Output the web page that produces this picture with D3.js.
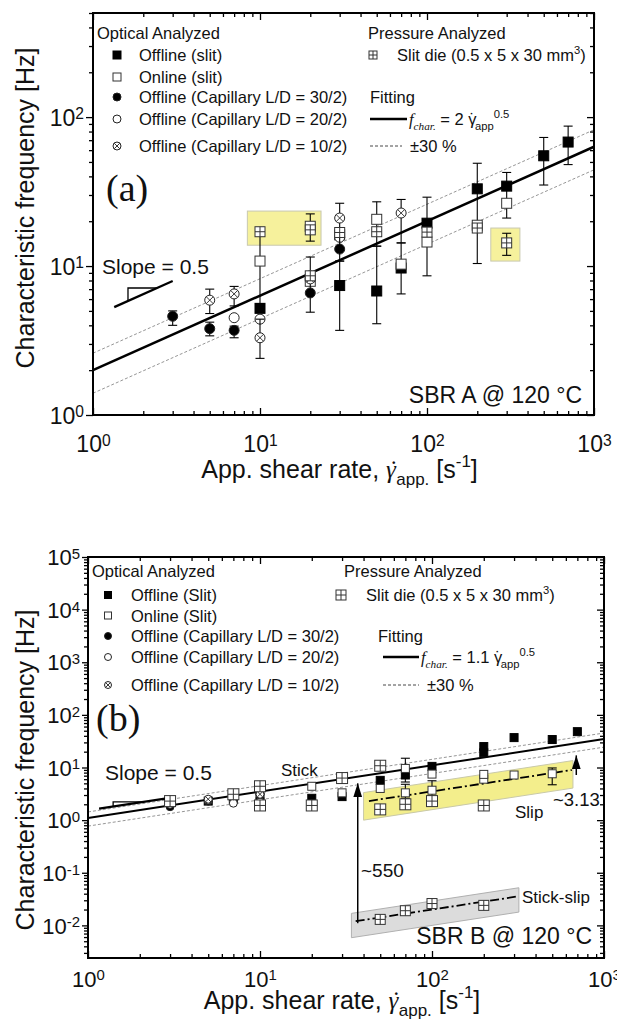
<!DOCTYPE html>
<html lang="en">
<head>
<meta charset="utf-8">
<title>Characteristic frequency vs apparent shear rate</title>
<style>
  body { margin: 0; background: #fff; }
  svg { font-family: "Liberation Sans", Arial, sans-serif; }
  .frame { fill: none; stroke: #000; stroke-width: 2; }
  .axis path { display: none; }
  .axis line { stroke: #000; stroke-width: 1.3; }
  .axis text { font-family: "Liberation Sans", Arial, sans-serif; fill: #111; }
  .pm { fill: none; stroke: #8a8a8a; stroke-width: 0.9; stroke-dasharray: 3,2; }
  .err { stroke: #000; stroke-width: 1.1; }
</style>
</head>
<body>
<svg id="chart" width="617" height="1020"></svg>
<script src="https://d3js.org/d3.v7.min.js"></script>
<script>
// ---------- data ----------
var xDomain = [1, 1000];
var xTicks = [1, 10, 100, 1000];

// (a) SBR A @ 120 °C
var aYDomain = [1, 500];
var aYTicks = [1, 10, 100];
var aFitK = 2;          // f = 2 * rate^0.5
var aOfflineSlit = [
  {x: 10, y: 5.2}, {x: 30, y: 7.4, lo: 3.7, hi: 10.8}, {x: 50, y: 6.8, lo: 4.1, hi: 13.6},
  {x: 70, y: 9.7, lo: 6.5, hi: 14.3}, {x: 100, y: 19.4, lo: 8.6, hi: 29},
  {x: 200, y: 33, lo: 10.4, hi: 49}, {x: 300, y: 34.4, lo: 21, hi: 42.5},
  {x: 500, y: 55, lo: 35, hi: 73}, {x: 700, y: 68, lo: 48, hi: 87}
];
var aOnlineSlit = [
  {x: 10, y: 10.8, lo: 5.6, hi: 18}, {x: 20, y: 18.5, lo: 14.7, hi: 22.4}, {x: 20, y: 7.9},
  {x: 30, y: 16.2}, {x: 50, y: 20.6, lo: 13.6, hi: 27}, {x: 70, y: 10.3},
  {x: 100, y: 14.5}, {x: 200, y: 18.8}, {x: 300, y: 26.4}
];
var aCap30 = [
  {x: 3, y: 4.6, lo: 4.0, hi: 5.0}, {x: 5, y: 3.8, lo: 3.4, hi: 4.2},
  {x: 7, y: 3.7, lo: 3.3, hi: 3.95}, {x: 20, y: 6.6, lo: 4.9, hi: 11.5}, {x: 30, y: 13}
];
var aCap20 = [{x: 7, y: 4.5}, {x: 10, y: 4.4}, {x: 20, y: 8.6}, {x: 30, y: 15.6}];
var aCap10 = [
  {x: 5, y: 5.9, lo: 4.8, hi: 7.0}, {x: 7, y: 6.5, lo: 5.4, hi: 7.3}, {x: 10, y: 3.3, lo: 2.4, hi: 4.4},
  {x: 20, y: 8.2}, {x: 30, y: 21, lo: 10.8, hi: 26.4}, {x: 70, y: 22.7, lo: 14.3, hi: 28}
];
var aSlitDie = [
  {x: 10, y: 17}, {x: 20, y: 17.5}, {x: 20, y: 8.6}, {x: 30, y: 16.8}, {x: 50, y: 17},
  {x: 100, y: 16.9}, {x: 200, y: 18}, {x: 300, y: 14.3, lo: 11.8, hi: 16.6}
];
var aHighlights = [
  {x0: 8.4, x1: 23.2, y0: 13.8, y1: 23.4},
  {x0: 241, x1: 360, y0: 10.8, y1: 18}
];

// (b) SBR B @ 120 °C
var bYDomain = [0.0024, 1e5];
var bYTicks = [0.01, 0.1, 1, 10, 100, 1000, 1e4, 1e5];
var bFitK = 1.1;
var bSlipRatio = 3.13;
var bStickSlipRatio = 550;
var bOfflineSlit = [
  {x: 5, y: 2.3}, {x: 7, y: 2.5}, {x: 10, y: 2.7}, {x: 20, y: 2.6}, {x: 30, y: 2.8}, {x: 30, y: 6.0},
  {x: 50, y: 5.7}, {x: 70, y: 7.2}, {x: 100, y: 10.5}, {x: 200, y: 19}, {x: 200, y: 25},
  {x: 300, y: 37}, {x: 500, y: 34}, {x: 700, y: 48}
];
var bOnlineSlit = [
  {x: 7, y: 2.8}, {x: 10, y: 3.6}, {x: 20, y: 4.4}, {x: 30, y: 3.3}, {x: 50, y: 4.0},
  {x: 70, y: 9.6, lo: 5.3, hi: 15}, {x: 70, y: 3.3, lo: 2.6, hi: 4.8}, {x: 100, y: 7.5},
  {x: 100, y: 3.7, lo: 2.5, hi: 5.6}, {x: 200, y: 6.0}, {x: 200, y: 7.4}, {x: 300, y: 7.2},
  {x: 500, y: 7.6, lo: 4.7, hi: 9.8}
];
var bCap30 = [{x: 3, y: 1.8}, {x: 5, y: 2.3}, {x: 7, y: 2.3}, {x: 10, y: 2.6}];
var bCap20 = [{x: 3, y: 2.0}, {x: 5, y: 2.4}, {x: 7, y: 2.1}, {x: 10, y: 2.2}];
var bCap10 = [{x: 3, y: 2.2}, {x: 5, y: 2.5}, {x: 7, y: 2.9}, {x: 10, y: 3.1}];
var bSlitDieStick = [
  {x: 3, y: 2.3}, {x: 7, y: 3.1}, {x: 10, y: 4.4}, {x: 10, y: 1.9}, {x: 20, y: 1.9},
  {x: 30, y: 6.3}, {x: 50, y: 10.8}
];
var bSlitDieSlip = [{x: 50, y: 1.6}, {x: 70, y: 2.0}, {x: 100, y: 2.3}, {x: 200, y: 1.9}];
var bSlitDieStickSlip = [
  {x: 50, y: 0.013}, {x: 70, y: 0.019, lo: 0.016, hi: 0.022},
  {x: 100, y: 0.026, lo: 0.022, hi: 0.031}, {x: 200, y: 0.024}
];
var bSlipRange = [43, 650], bSlipBand = {x0: 40, x1: 660, lo: 0.45, hi: 1.5};
var bStickSlipRange = [36, 308], bStickSlipBand = {x0: 34, x1: 320, lo: 0.5, hi: 1.45};
var bArrows = [{x: 37, from: 0.011, to: 5.0}, {x: 690, from: 7.2, to: 17}];

var legendOpticalA = ['Offline (slit)', 'Online (slit)', 'Offline (Capillary L/D = 30/2)',
  'Offline (Capillary L/D = 20/2)', 'Offline (Capillary L/D = 10/2)'];
var legendOpticalB = ['Offline (Slit)', 'Online (Slit)', 'Offline (Capillary L/D = 30/2)',
  'Offline (Capillary L/D = 20/2)', 'Offline (Capillary L/D = 10/2)'];
var markerKeys = ['fsq', 'osq', 'fci', 'oci', 'xci'];

// ---------- helpers ----------
var svg = d3.select('#chart');
var SERIF = '"Liberation Serif", "DejaVu Serif", serif';

var defs = svg.append('defs');
defs.append('marker').attr('id', 'arrow').attr('markerUnits', 'userSpaceOnUse')
  .attr('viewBox', '0 0 14 9').attr('refX', 14).attr('refY', 4.5)
  .attr('markerWidth', 14).attr('markerHeight', 9).attr('orient', 'auto')
  .append('path').attr('d', 'M0,0L14,4.5L0,9Z').attr('fill', '#000');

// text with sub/superscripts; {g:1} draws gamma with an over-dot
function rich(text, parts, size) {
  var shift = 0;
  parts.forEach(function (p) {
    var target = p.sub ? size * 0.28 : (p.sup ? -size * 0.45 : 0);
    var ts = text.append('tspan').text(p.g ? '\u03B3' : p.t);
    if (target !== shift) { ts.attr('dy', target - shift); shift = target; }
    if (p.sub || p.sup) ts.attr('font-size', size * 0.68);
    if (p.it) ts.attr('font-style', 'italic');
    if (p.serif) ts.attr('font-family', SERIF);
    if (p.g) {
      // gamma advance ~0.44em (serif) / 0.5em (sans); dot glyph ~0.33em
      var back = p.serif ? -0.32 : -0.43;
      var d = text.append('tspan').text('\u02D9').attr('dx', back * size);
      if (p.it) d.attr('font-style', 'italic');
      if (p.serif) d.attr('font-family', SERIF);
      text.append('tspan').text('').attr('dx', -(0.33 + back + (p.serif ? 0.44 : 0.5)) * size + (p.serif ? 0.44 : 0.5) * size - 0.33 * size);
    }
  });
}

function powLabels(sel) {
  sel.each(function (d) {
    var t = d3.select(this), e = Math.round(Math.log10(d));
    t.text(null);
    t.append('tspan').text('10');
    t.append('tspan').attr('dy', '-0.42em').attr('font-size', '0.68em').text(e < 0 ? '-' + (-e) : e);
  });
}

function marker(g, type, s) {
  var h = s / 2;
  if (type === 'fsq' || type === 'osq' || type === 'psq') {
    g.append('rect').attr('x', -h).attr('y', -h).attr('width', s).attr('height', s)
      .attr('fill', type === 'fsq' ? '#000' : '#fff')
      .attr('stroke', type === 'fsq' ? '#000' : '#333').attr('stroke-width', 1);
    if (type === 'psq') {
      g.append('path').attr('d', 'M0,' + (-h) + 'V' + h + 'M' + (-h) + ',0H' + h)
        .attr('stroke', '#333').attr('stroke-width', 1);
    }
  } else {
    g.append('circle').attr('r', h).attr('fill', type === 'fci' ? '#000' : '#fff')
      .attr('stroke', '#222').attr('stroke-width', 1);
    if (type === 'xci') {
      var k = h * 0.7;
      g.append('path').attr('d', 'M' + (-k) + ',' + (-k) + 'L' + k + ',' + k + 'M' + k + ',' + (-k) + 'L' + (-k) + ',' + k)
        .attr('stroke', '#222').attr('stroke-width', 0.9);
    }
  }
}

function drawPanel(P) {
  var x = d3.scaleLog().domain(xDomain).range([P.left, P.right]);
  var y = d3.scaleLog().domain(P.yDomain).range([P.bottom, P.top]);
  var g = svg.append('g').attr('class', 'panel-' + P.id);
  var under = g.append('g'), lines = g.append('g'), marks = g.append('g'), axes = g.append('g');

  // fit and +-30 %
  var fitLine = d3.line().x(function (d) { return x(d); });
  [[1.3, 'pm'], [0.7, 'pm'], [1, 'fit']].forEach(function (f) {
    var p = lines.append('path')
      .attr('d', fitLine.y(function (d) { return y(P.fitK * f[0] * Math.sqrt(d)); })(xDomain))
      .attr('class', f[1]);
    if (f[1] === 'fit') p.attr('fill', 'none').attr('stroke', '#000').attr('stroke-width', P.fitWidth);
  });

  // series
  P.series.forEach(function (s) {
    var sg = marks.append('g');
    var eb = s.data.filter(function (d) { return d.lo != null; });
    sg.selectAll('line.err').data(eb).join('line').attr('class', 'err')
      .attr('x1', function (d) { return x(d.x); }).attr('x2', function (d) { return x(d.x); })
      .attr('y1', function (d) { return y(d.lo); }).attr('y2', function (d) { return y(d.hi); });
    ['lo', 'hi'].forEach(function (k) {
      sg.selectAll('line.cap-' + k).data(eb).join('line').attr('class', 'err cap-' + k)
        .attr('x1', function (d) { return x(d.x) - 4.5; }).attr('x2', function (d) { return x(d.x) + 4.5; })
        .attr('y1', function (d) { return y(d[k]); }).attr('y2', function (d) { return y(d[k]); });
    });
    sg.selectAll('g.pt').data(s.data).join('g').attr('class', 'pt')
      .attr('transform', function (d) { return 'translate(' + x(d.x) + ',' + y(d.y) + ')'; })
      .each(function () { marker(d3.select(this), s.key, s.size || P.ms); });
  });

  // axes
  var yMinor = y.ticks().filter(function (v) { return P.yTicks.indexOf(v) < 0 && Math.abs(Math.log10(v) % 1) > 1e-6; });
  var xMinor = x.ticks().filter(function (v) { return xTicks.indexOf(v) < 0; });
  var bottom = axes.append('g').attr('class', 'axis').attr('transform', 'translate(0,' + P.bottom + ')')
    .call(d3.axisBottom(x).tickValues(xTicks).tickSizeInner(-7).tickSizeOuter(0).tickPadding(P.xPad));
  bottom.selectAll('text').attr('font-size', P.tickFont).call(powLabels);
  axes.append('g').attr('class', 'axis').attr('transform', 'translate(0,' + P.bottom + ')')
    .call(d3.axisBottom(x).tickValues(xMinor).tickSizeInner(-4).tickSizeOuter(0).tickFormat(''));
  axes.append('g').attr('class', 'axis').attr('transform', 'translate(0,' + P.top + ')')
    .call(d3.axisTop(x).tickValues(xTicks).tickSizeInner(-7).tickSizeOuter(0).tickFormat(''));
  axes.append('g').attr('class', 'axis').attr('transform', 'translate(0,' + P.top + ')')
    .call(d3.axisTop(x).tickValues(xMinor).tickSizeInner(-4).tickSizeOuter(0).tickFormat(''));
  var left = axes.append('g').attr('class', 'axis').attr('transform', 'translate(' + P.left + ',0)')
    .call(d3.axisLeft(y).tickValues(P.yTicks).tickSizeInner(P.yTick).tickSizeOuter(0).tickPadding(2));
  left.selectAll('text').attr('font-size', P.tickFont).attr('dy', '0.35em').call(powLabels);
  axes.append('g').attr('class', 'axis').attr('transform', 'translate(' + P.left + ',0)')
    .call(d3.axisLeft(y).tickValues(yMinor).tickSizeInner(4).tickSizeOuter(0).tickFormat(''));
  axes.append('g').attr('class', 'axis').attr('transform', 'translate(' + P.right + ',0)')
    .call(d3.axisRight(y).tickValues(P.yTicks).tickSizeInner(-7).tickSizeOuter(0).tickFormat(''));
  axes.append('g').attr('class', 'axis').attr('transform', 'translate(' + P.right + ',0)')
    .call(d3.axisRight(y).tickValues(yMinor).tickSizeInner(-4).tickSizeOuter(0).tickFormat(''));
  axes.append('rect').attr('class', 'frame').attr('x', P.left).attr('y', P.top)
    .attr('width', P.right - P.left).attr('height', P.bottom - P.top);

  // axis titles
  var xt = axes.append('text').attr('x', (P.left + P.right) / 2 - 4).attr('y', P.xTitleY)
    .attr('text-anchor', 'middle').attr('font-size', 25).attr('fill', '#111');
  rich(xt, [{t: 'App. shear rate, '}, {g: 1, it: 1, serif: 1}, {t: 'app.', sub: 1},
    {t: ' [s'}, {t: '-1', sup: 1}, {t: ']'}], 25);
  axes.append('text').attr('transform', 'translate(' + P.yTitleX + ',' + P.yTitleY + ') rotate(-90)')
    .attr('text-anchor', 'middle').attr('font-size', 25).attr('fill', '#111')
    .text('Characteristic frequency [Hz]');

  // legend
  var L = P.legend, lg = axes.append('g').attr('font-size', 16.5).attr('fill', '#111');
  lg.append('text').attr('x', L.headX).attr('y', L.rows[0] + 6).text('Optical Analyzed');
  P.legendLabels.forEach(function (lab, i) {
    var yy = L.rows[i + 1];
    marker(lg.append('g').attr('transform', 'translate(' + L.mx + ',' + yy + ')'), markerKeys[i], L.ms);
    lg.append('text').attr('x', L.tx).attr('y', yy + 6).text(lab);
  });
  lg.append('text').attr('x', L.pHeadX).attr('y', L.rows[0] + 6).text('Pressure Analyzed');
  marker(lg.append('g').attr('transform', 'translate(' + L.pmx + ',' + L.rows[1] + ')'), 'psq', L.pms);
  var sd = lg.append('text').attr('x', L.ptx).attr('y', L.rows[1] + 6);
  rich(sd, [{t: 'Slit die (0.5 x 5 x 30 mm'}, {t: '3', sup: 1}, {t: ')'}], 16.5);
  lg.append('text').attr('x', L.fitX).attr('y', L.rows[3] + 6).text('Fitting');
  lg.append('line').attr('x1', L.lx0).attr('x2', L.lx1).attr('y1', L.rows[4]).attr('y2', L.rows[4])
    .attr('stroke', '#000').attr('stroke-width', 2.4);
  var ft = lg.append('text').attr('x', L.lx1 + 2).attr('y', L.rows[4] + 6);
  rich(ft, [{t: 'f', it: 1, serif: 1}, {t: 'char.', sub: 1, it: 1, serif: 1}, {t: ' = ' + P.fitK + ' '},
    {g: 1}, {t: 'app', sub: 1}, {t: '0.5', sup: 1}], 16.5);
  lg.append('line').attr('x1', L.lx0).attr('x2', L.dx1).attr('y1', L.rows[5]).attr('y2', L.rows[5])
    .attr('stroke', '#333').attr('stroke-width', 0.9).attr('stroke-dasharray', '3,2');
  lg.append('text').attr('x', L.dx1 + 8).attr('y', L.rows[5] + 6).text('\u00B130 %');

  // panel tag, condition, slope marker
  axes.append('text').attr('x', P.tag[0]).attr('y', P.tag[1]).attr('font-family', SERIF)
    .attr('font-size', 38).attr('fill', '#111').text('(' + P.id + ')');
  axes.append('text').attr('x', P.right - 12).attr('y', P.condY).attr('text-anchor', 'end')
    .attr('font-size', 23).attr('fill', '#111').text(P.cond);
  var S = P.slope;
  axes.append('text').attr('x', S.tx).attr('y', S.ty).attr('font-size', 21).attr('fill', '#111').text('Slope = 0.5');
  var sf = function (v) { return S.f0 * Math.sqrt(v / S.x0); };
  axes.append('line').attr('x1', x(S.x0)).attr('y1', y(sf(S.x0))).attr('x2', x(S.x1)).attr('y2', y(sf(S.x1)))
    .attr('stroke', '#000').attr('stroke-width', 2.2);
  axes.append('path').attr('d', 'M' + x(S.t0) + ',' + y(sf(S.t0)) + 'V' + y(sf(S.t1)) + 'H' + x(S.t1))
    .attr('fill', 'none').attr('stroke', '#000').attr('stroke-width', 1.3);

  return {x: x, y: y, under: under, lines: lines, axes: axes};
}

// ---------- panel (a) ----------
var A = drawPanel({
  id: 'a', left: 93, right: 594, top: 13, bottom: 415, yDomain: aYDomain, yTicks: aYTicks,
  fitK: aFitK, fitWidth: 2.5, ms: 10, tickFont: 23, xPad: 21, yTick: 7,
  xTitleY: 478, yTitleX: 34, yTitleY: 208,
  series: [
    {key: 'fsq', data: aOfflineSlit}, {key: 'osq', data: aOnlineSlit}, {key: 'fci', data: aCap30},
    {key: 'oci', data: aCap20}, {key: 'xci', data: aCap10}, {key: 'psq', data: aSlitDie}
  ],
  legendLabels: legendOpticalA,
  legend: {rows: [33, 55, 77, 97, 119, 146], headX: 97, mx: 117, tx: 139, ms: 8,
    pHeadX: 368, pmx: 373, pms: 8, ptx: 397, fitX: 370, lx0: 370, lx1: 407, dx1: 402},
  tag: [106, 201], cond: 'SBR A @ 120 \u00B0C', condY: 403,
  slope: {tx: 102, ty: 274, x0: 1.34, f0: 5.3, x1: 3.0, t0: 1.62, t1: 2.42}
});
A.under.selectAll('rect').data(aHighlights).join('rect')
  .attr('x', function (d) { return A.x(d.x0); }).attr('y', function (d) { return A.y(d.y1); })
  .attr('width', function (d) { return A.x(d.x1) - A.x(d.x0); })
  .attr('height', function (d) { return A.y(d.y0) - A.y(d.y1); })
  .attr('fill', '#f6f19c').attr('stroke', '#c8c8b0').attr('stroke-width', 1);

// ---------- panel (b) ----------
var B = drawPanel({
  id: 'b', left: 88, right: 604, top: 557, bottom: 958, yDomain: bYDomain, yTicks: bYTicks,
  fitK: bFitK, fitWidth: 2, ms: 8, tickFont: 22, xPad: 13, yTick: 6,
  xTitleY: 1009, yTitleX: 34, yTitleY: 770,
  series: [
    {key: 'fsq', data: bOfflineSlit}, {key: 'osq', data: bOnlineSlit}, {key: 'fci', data: bCap30},
    {key: 'oci', data: bCap20}, {key: 'xci', data: bCap10},
    {key: 'psq', data: bSlitDieStick, size: 11}, {key: 'psq', data: bSlitDieSlip, size: 11},
    {key: 'psq', data: bSlitDieStickSlip, size: 10}
  ],
  legendLabels: legendOpticalB,
  legend: {rows: [571, 595, 615.5, 636, 657, 685], headX: 92, mx: 108, tx: 131, ms: 7,
    pHeadX: 344, pmx: 341, pms: 10, ptx: 366, fitX: 378, lx0: 383, lx1: 419, dx1: 419},
  tag: [96, 731], cond: 'SBR B @ 120 \u00B0C', condY: 944,
  slope: {tx: 105, ty: 780, x0: 1.16, f0: 1.65, x1: 2.8, t0: 1.4, t1: 2.12}
});

function bandPoly(k, b) {
  var f = function (v) { return k * Math.sqrt(v); };
  return [[b.x0, f(b.x0) * b.hi], [b.x1, f(b.x1) * b.hi], [b.x1, f(b.x1) * b.lo], [b.x0, f(b.x0) * b.lo]]
    .map(function (p) { return [B.x(p[0]), B.y(p[1])]; });
}
var kSlip = bFitK / bSlipRatio, kStickSlip = bFitK / bStickSlipRatio;
B.under.append('path').attr('d', 'M' + bandPoly(kSlip, bSlipBand).join('L') + 'Z')
  .attr('fill', '#f3ee8c').attr('stroke', '#c9c9a8').attr('stroke-width', 1);
B.under.append('path').attr('d', 'M' + bandPoly(kStickSlip, bStickSlipBand).join('L') + 'Z')
  .attr('fill', '#dcdcdc').attr('stroke', '#b0b0b0').attr('stroke-width', 1);

var powLine = function (k) {
  return d3.line().x(function (d) { return B.x(d); }).y(function (d) { return B.y(k * Math.sqrt(d)); });
};
B.lines.append('path').attr('d', powLine(kSlip)(bSlipRange))
  .attr('fill', 'none').attr('stroke', '#000').attr('stroke-width', 1.8).attr('stroke-dasharray', '9,3,2,3');
B.lines.append('path').attr('d', powLine(kStickSlip)(bStickSlipRange))
  .attr('fill', 'none').attr('stroke', '#000').attr('stroke-width', 1.8).attr('stroke-dasharray', '9,3,2,3');

B.axes.selectAll('line.arrow').data(bArrows).join('line').attr('class', 'arrow')
  .attr('x1', function (d) { return B.x(d.x); }).attr('x2', function (d) { return B.x(d.x); })
  .attr('y1', function (d) { return B.y(d.from); }).attr('y2', function (d) { return B.y(d.to); })
  .attr('stroke', '#000').attr('stroke-width', 1.5).attr('marker-end', 'url(#arrow)');

var notes = B.axes.append('g').attr('fill', '#111');
notes.append('text').attr('x', 281).attr('y', 776).attr('font-size', 17).text('Stick');
notes.append('text').attr('x', 515).attr('y', 818).attr('font-size', 17).text('Slip');
notes.append('text').attr('x', 553).attr('y', 806).attr('font-size', 18.5).text('~' + bSlipRatio);
notes.append('text').attr('x', 361).attr('y', 877).attr('font-size', 19).text('~' + bStickSlipRatio);
notes.append('text').attr('x', 522).attr('y', 903).attr('font-size', 17).text('Stick-slip');
</script>
</body>
</html>
